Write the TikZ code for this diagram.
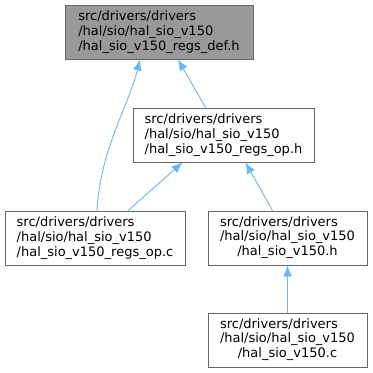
\documentclass[tikz,border=0pt]{standalone}
\usepackage{fontspec}
\setmainfont{DejaVu Sans}
\usetikzlibrary{arrows.meta,calc}
\definecolor{edgec}{HTML}{63B8FF}
\definecolor{boxborder}{HTML}{666666}
\definecolor{topfill}{HTML}{999999}
\tikzset{
  filebox/.style={draw=boxborder, fill=white, line width=0.9pt, minimum height=54pt, inner sep=0pt, font=\fontsize{13}{14.6}\selectfont, align=left},
  topbox/.style={filebox, fill=topfill},
  edge/.style={draw=edgec, line width=0.9pt, -{Latex[length=11pt,width=9pt]}}
}
\newcommand{\ctrlast}[3]{\begin{tabular}{@{}l@{}}#1\\#2\\\multicolumn{1}{@{}c@{}}{#3}\end{tabular}}
\begin{document}
\begin{tikzpicture}[x=1pt,y=-1pt]
\useasboundingbox (0,0) rectangle (373,373);
\node[topbox, minimum width=188pt] (top) at (159,32) {src/drivers/drivers\\/hal/sio/hal\_sio\_v150\\/hal\_sio\_v150\_regs\_def.h};
\node[filebox, minimum width=181pt] (mid) at (223.5,135) {src/drivers/drivers\\/hal/sio/hal\_sio\_v150\\/hal\_sio\_v150\_regs\_op.h};
\node[filebox, minimum width=180pt] (bl) at (95,238) {src/drivers/drivers\\/hal/sio/hal\_sio\_v150\\/hal\_sio\_v150\_regs\_op.c};
\node[filebox, minimum width=159pt] (rh) at (287.5,238) {\ctrlast{src/drivers/drivers}{/hal/sio/hal\_sio\_v150}{/hal\_sio\_v150.h}};
\node[filebox, minimum width=159pt] (rc) at (287.5,340) {\ctrlast{src/drivers/drivers}{/hal/sio/hal\_sio\_v150}{/hal\_sio\_v150.c}};
\draw[edge] ($(bl.north)+(2,0)$) .. controls ($(bl.north)+(5,-60)$) and ($(top.south)+(-30,45)$) .. ($(top.south)+(-19,0)$);
\draw[edge] ($(mid.north)+(-18,0)$) -- ($(top.south)+(19,0)$);
\draw[edge] ($(bl.north)+(33,0)$) -- ($(mid.south)+(-41,0)$);
\draw[edge] ($(rh.north)+(-15,0)$) -- ($(mid.south)+(22,0)$);
\draw[edge] (rc.north) -- (rh.south);
\end{tikzpicture}
\end{document}
